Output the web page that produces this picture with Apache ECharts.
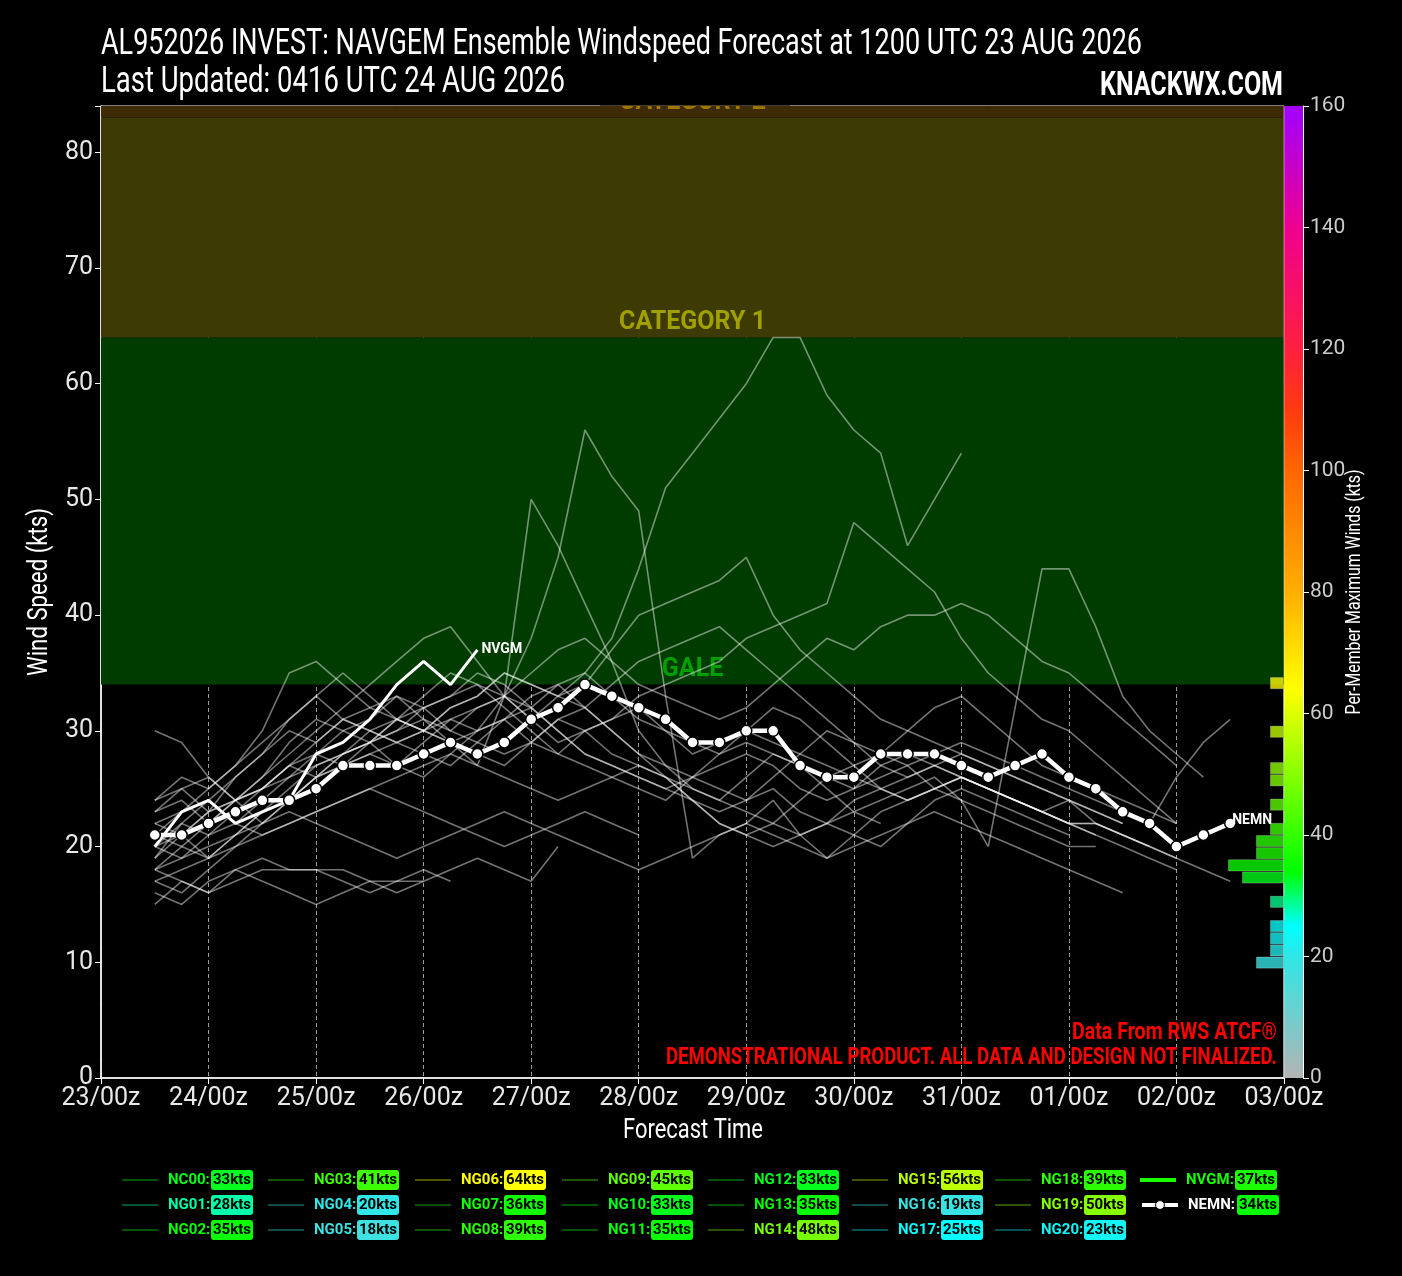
<!DOCTYPE html>
<html><head><meta charset="utf-8">
<script src="https://cdn.jsdelivr.net/npm/echarts@6/dist/echarts.min.js"></script>
<style>html,body{margin:0;padding:0;background:#000;}#c{width:1402px;height:1276px;}</style>
</head><body><div id="c"></div>
<script>
const FONT = "Roboto, 'Noto Sans', sans-serif";

// ---- time axis ----
const tickLabels = ['23/00z','24/00z','25/00z','26/00z','27/00z','28/00z','29/00z','30/00z','31/00z','01/00z','02/00z','03/00z'];
const startHour = 12, stepHour = 6;

// ---- ensemble members (kts, 6-hourly from 23/12z) ----
const NC00 = [24,26,25,27,29,31,33,31,30,29,28,27,29,31,32,30,28,27,26,25,26,27,28,27,25,24,25,27,28,27,26,25,24,23,22,22,21,20];
const NG01 = [22,23,24,22,21,22,23,24,25,26,27,28,27,26,25,24,25,26,27,26,24,23,24,25,23,22,21,20,22,24,25,24,23,22,21];
const NG02 = [19,22,24,26,28,31,33,35,33,31,30,29,30,31,33,34,32,30,28,27,26,25,24,26,28,30,29,27,26,27,28,27,26,25,24,23,22];
const NG03 = [23,24,22,24,26,29,31,30,29,30,32,33,34,33,35,37,38,36,34,33,32,31,32,34,36,38,37,39,40,40,41,40,38,36,35,33,31,29,27];
const NG04 = [16,15,17,18,17,16,15,16,17,17,17,18,19,18,17,20];
const NG05 = [15,17,16,17,18,18,18,17,16,17,18,17];
const NG06 = [24,25,23,26,28,30,29,31,32,33,31,30,32,33,31,33,35,38,44,51,54,57,60,64,64,59,56,54,46,50,54];
const NG07 = [21,23,25,27,30,35,36,34,32,31,30,29,28,27,29,31,30,28,27,26,25,24,26,28,27,25,23,22];
const NG08 = [20,21,23,24,26,28,30,32,34,36,38,39,36,33,32,34,35,33,31,30,29,28,30,32,31,29,27,25,24,25,26,25,24,23,22,22,21,20,19];
const NG09 = [23,25,26,24,25,27,29,31,30,29,30,32,33,35,34,33,34,37,40,41,42,43,45,40,37,35,33,31,30,29,28,27,26,25,24,23,22];
const NG10 = [18,20,19,21,23,24,26,27,28,29,30,31,32,33,31,29,30,31,32,30,28,29,30,29,28,27,26,25,24,25,26,25,24,23,22,21,20,19,18];
const NG11 = [22,21,19,21,23,25,27,28,29,31,33,35,34,32,30,28,27,26,25,24,26,28,29,28,27,26,25,26,27,28,29,28,27,26,25,24,23,22,26,29,31];
const NG12 = [30,29,26,24,25,27,28,30,31,33,32,30,29,28,29,31,32,30,28,26,24,22,21,20,21,22,24,25,26,27,26,25,24,23,24,22,21,20,19,18,17];
const NG13 = [17,16,18,20,22,24,26,28,30,31,32,33,35,34,32,30,28,27,26,25,24,22,21,22,24,26,27,28,27,25,24,23,22,21,20,20];
const NG14 = [21,20,22,24,25,26,27,28,29,27,26,28,30,31,29,28,30,31,33,34,35,36,38,39,40,41,48,46,44,42,38,35,33,31,30,28,26,24,22];
const NG15 = [20,22,21,23,25,27,26,28,29,30,31,29,27,33,38,45,56,52,49,33,19,21,22,24,21,19,21,23,24,25,26,25,24,23,22,21];
const NG16 = [18,17,16,18,19,18,18,18,17,16,17];
const NG17 = [17,18,19,20,21,22,23,24,25,24,23,22,21,20,21,22,23,22,21];
const NG18 = [20,19,21,22,24,26,28,27,29,31,30,32,33,35,34,33,32,34,36,37,38,39,37,35,33,31,29,28,30,32,33,31,29,27,26,25,24,23,22];
const NG19 = [19,21,23,24,22,24,26,27,28,27,29,31,30,33,50,46,41,36,30,27,25,24,23,22,21,22,23,24,25,26,24,20,32,44,44,39,33,30,28,26];
const NG20 = [18,19,20,21,22,23,22,21,20,19,20,21,22,23,22,21,20,19,18,19,20,21,22,21,20,19,20,21,22,23,22,21,20,19,18,17,16];
const NVGM = [20,23,24,22,23,24,28,29,31,34,36,34,37];
const NEMN = [21,21,22,23,24,24,25,27,27,27,28,29,28,29,31,32,34,33,32,31,29,29,30,30,27,26,26,28,28,28,27,26,27,28,26,25,23,22,20,21,22];

const memberNames = ['NC00','NG01','NG02','NG03','NG04','NG05','NG06','NG07','NG08','NG09','NG10','NG11','NG12','NG13','NG14','NG15','NG16','NG17','NG18','NG19','NG20'];
const memberData = [NC00,NG01,NG02,NG03,NG04,NG05,NG06,NG07,NG08,NG09,NG10,NG11,NG12,NG13,NG14,NG15,NG16,NG17,NG18,NG19,NG20];

// ---- colour scale of max winds ----
const cmapStops = [[0,'#b4b4b4'],[20,'#30e6e6'],[25,'#00ffff'],[34,'#00ff00'],[64,'#ffff00'],[80,'#ffae00'],[100,'#ff6600'],[110,'#ff3a10'],[120,'#ff1f3f'],[140,'#ee0090'],[160,'#a000ff']];

function hex2rgb(h){return [parseInt(h.slice(1,3),16),parseInt(h.slice(3,5),16),parseInt(h.slice(5,7),16)];}
function rgbStr(c,a){return a===undefined?`rgb(${c.map(Math.round).join(',')})`:`rgba(${c.map(Math.round).join(',')},${a})`;}
function cmapRGB(v){
  for(let i=0;i<cmapStops.length-1;i++){
    const [v0,c0]=cmapStops[i],[v1,c1]=cmapStops[i+1];
    if(v<=v1){const f=Math.max(0,(v-v0)/(v1-v0));const a=hex2rgb(c0),b=hex2rgb(c1);return a.map((x,k)=>x+(b[k]-x)*f);}
  }
  return hex2rgb(cmapStops[cmapStops.length-1][1]);
}
function cmap(v,a){return rgbStr(cmapRGB(v),a);}
function dim(v,f){return rgbStr(cmapRGB(v).map(x=>x*f));}

const toPts = arr => arr.map((v,i)=>[startHour+i*stepHour, v]);
const maxOf = arr => Math.max(...arr);

// ---- histogram of maxima (2-kt bins on the 0-160 colour axis) ----
const allMax = memberData.map(maxOf).concat([maxOf(NVGM), maxOf(NEMN)]);
const binCats = [], binCounts = [];
for(let b=0;b<80;b++){binCats.push(b*2); binCounts.push(0);}
allMax.forEach(v=>{binCounts[Math.floor(v/2)]++;});

const bandLabel = (t,c)=>({show:true,position:'insideBottom',distance:2,formatter:t,color:c,fontSize:25,fontWeight:'bold',fontFamily:FONT});
const series = [];
series.push({
  type:'line', name:'bands', data:[], z:1, silent:true,
  markArea:{silent:true, data:[
    [{xAxis:0,yAxis:34,itemStyle:{color:'#003c00'},label:bandLabel('GALE','#00a000')},{xAxis:264,yAxis:64}],
    [{xAxis:0,yAxis:64,itemStyle:{color:'#3d3a04'},label:bandLabel('CATEGORY 1','#a0a000')},{xAxis:264,yAxis:83}],
    [{xAxis:0,yAxis:83,itemStyle:{color:'#3e2a05'},label:bandLabel('CATEGORY 2','#a07800')},{xAxis:264,yAxis:84}]
  ]}
});
memberNames.forEach((n,i)=>{
  series.push({type:'line', name:n, data:toPts(memberData[i]), symbol:'none', silent:true, z:3,
    lineStyle:{color:'rgba(255,255,255,0.45)', width:1.6}});
});
series.push({type:'line', name:'NVGM', data:toPts(NVGM), symbol:'none', z:5,
  lineStyle:{color:'#ffffff', width:3},
  endLabel:{show:true, formatter:'NVGM', color:'#fff', fontWeight:'bold', fontSize:14, fontFamily:FONT, distance:4}});
series.push({type:'line', name:'NEMN', data:toPts(NEMN), symbol:'circle', symbolSize:11, z:6,
  lineStyle:{color:'#ffffff', width:4.5}, itemStyle:{color:'#fff', borderColor:'#000', borderWidth:1.5},
  endLabel:{show:true, formatter:'NEMN', color:'#fff', fontWeight:'bold', fontSize:14, fontFamily:FONT, distance:2, offset:[0,-3]}});
series.forEach(s=>{s.xAxisIndex=0; s.yAxisIndex=0;});
// histogram
series.push({type:'bar', name:'hist', xAxisIndex:1, yAxisIndex:1, barWidth:'100%', barCategoryGap:0, silent:true, z:7,
  data: binCounts.map((c,b)=>({value:c, itemStyle:{color:cmap(b*2+1,0.78), borderColor:'rgba(255,255,255,0.25)', borderWidth:1}}))});
// colour bar
series.push({type:'bar', name:'cbar', xAxisIndex:2, yAxisIndex:2, barWidth:'100%', silent:true, z:2,
  data:[160], itemStyle:{color:new echarts.graphic.LinearGradient(0,1,0,0, cmapStops.map(s=>({offset:s[0]/160,color:s[1]})))}});

// ---- legends ----
const allNames = memberNames.concat(['NVGM','NEMN']);
const rich = {};
allNames.forEach((n,i)=>{
  const v = allMax[i];
  const wide = (n==='NVGM'||n==='NEMN');
  rich['n'+i] = {color: n==='NEMN' ? '#ffffff' : cmap(v), fontFamily:FONT, fontWeight:'bold', fontSize:15, width: wide?49:43, padding:[0,0,0,5]};
  rich['b'+i] = {color:'#000', backgroundColor:cmap(v), borderRadius:3, padding:[3,2,2,2], fontFamily:FONT, fontWeight:'bold', fontSize:15, borderColor:'rgba(0,0,0,0.45)', borderWidth:1};
});
const fmt = name=>{const i=allNames.indexOf(name); return `{n${i}|${name}:}{b${i}|${allMax[i]}kts}`;};
const legendLefts = [117,263,410,557,703,847,990,1135];
const legends = [];
for(let k=0;k<7;k++){
  legends.push({orient:'vertical', left:legendLefts[k], top:1164, itemWidth:36, itemHeight:2, itemGap:3, selectedMode:false,
    data: memberNames.slice(3*k,3*k+3).map((n,j)=>({name:n, icon:'rect', itemStyle:{color:dim(allMax[3*k+j],0.33), borderWidth:0}})),
    formatter: fmt, textStyle:{rich}});
}
legends.push({orient:'vertical', left:legendLefts[7], top:1164, itemWidth:36, itemHeight:4, selectedMode:false,
  data:[{name:'NVGM', icon:'rect', itemStyle:{color:cmap(37), borderWidth:0}}], formatter: fmt, textStyle:{rich}});
legends.push({orient:'vertical', left:legendLefts[7], top:1189, itemWidth:36, itemHeight:11, selectedMode:false,
  data:[{name:'NEMN', lineStyle:{width:4, color:'#fff'}, itemStyle:{color:'#fff', borderColor:'#000', borderWidth:1}}], formatter: fmt, textStyle:{rich}});

// ---- condensed-looking texts (scaled real text) ----
const _ctx = document.createElement('canvas').getContext('2d');
function fitX(text, font, w){ _ctx.font = font; return w / _ctx.measureText(text).width; }
function gText(text, x, y, font, width, fill, align, rot){
  return {type:'text', x, y, rotation:rot||0, scaleX:fitX(text,font,width), z:60, silent:true,
    style:{text, font, fill, align:align||'left', verticalAlign:'middle'}};
}
const T1 = 'AL952026 INVEST: NAVGEM Ensemble Windspeed Forecast at 1200 UTC 23 AUG 2026';
const T2 = 'Last Updated: 0416 UTC 24 AUG 2026';
const graphics = [
  gText(T1, 101, 45, '36px Roboto', 1041, '#fff', 'left'),
  gText(T2, 101, 83, '36px Roboto', 464, '#fff', 'left'),
  gText('KNACKWX.COM', 1283, 87, 'bold 33px Roboto', 183, '#fff', 'right'),
  gText('Data From RWS ATCF®', 1277, 1033, 'bold 24px Roboto', 205, '#ff0000', 'right'),
  gText('DEMONSTRATIONAL PRODUCT. ALL DATA AND DESIGN NOT FINALIZED.', 1277, 1058, 'bold 24px Roboto', 611, '#ff0000', 'right'),
  gText('Forecast Time', 693, 1131, '28px Roboto', 140, '#fff', 'center'),
  gText('Wind Speed (kts)', 40, 592, '28px Roboto', 168, '#fff', 'center', Math.PI/2),
  gText('Per-Member Maximum Winds (kts)', 1355, 592, '20px Roboto', 245, '#fff', 'center', Math.PI/2),
  {type:'rect', z:100, silent:true, shape:{x:600, y:76, width:190, height:29.5}, style:{fill:'#000'}}
];

const option = {
  backgroundColor:'#000',
  animation:false,
  textStyle:{fontFamily:FONT},
  legend: legends,
  grid:[
    {left:101, top:106, width:1183, height:972, show:true, borderColor:'#ffffff', borderWidth:1, backgroundColor:'transparent'},
    {left:1144, top:106, width:140, height:972},
    {left:1284, top:106, width:19, height:972}
  ],
  xAxis:[
    {gridIndex:0, type:'value', min:0, max:264, interval:24,
     axisLine:{show:true, lineStyle:{color:'#fff', width:1.5}}, axisTick:{show:true, length:6, lineStyle:{color:'#fff'}},
     axisLabel:{color:'#e8e8e8', fontSize:25, fontFamily:FONT, margin:8, formatter:v=>tickLabels[Math.round(v/24)]||''},
     splitLine:{show:true, lineStyle:{color:'#9a9a9a', type:[4,3], width:1}}},
    {gridIndex:1, type:'value', min:0, max:10, inverse:true, show:false},
    {gridIndex:2, type:'category', data:['cb'], show:false}
  ],
  yAxis:[
    {gridIndex:0, type:'value', min:0, max:84, interval:10,
     axisLine:{show:true, lineStyle:{color:'#fff', width:1.5}}, axisTick:{show:true, length:6, lineStyle:{color:'#fff'}},
     axisLabel:{color:'#e8e8e8', fontSize:25, fontFamily:FONT, margin:8, formatter:v=>(v%10===0?String(v):'')},
     splitLine:{show:false}},
    {gridIndex:1, type:'category', data:binCats, show:false},
    {gridIndex:2, type:'value', min:0, max:160, interval:20, position:'right',
     axisLine:{show:true, lineStyle:{color:'#fff', width:1}}, axisTick:{show:true, length:6, lineStyle:{color:'#fff'}},
     axisLabel:{color:'#cccccc', fontSize:21, fontFamily:FONT, margin:7}, splitLine:{show:false}}
  ],
  graphic: graphics,
  series
};
const chart = echarts.init(document.getElementById('c'), null, {renderer:'canvas'});
chart.setOption(option);
</script></body></html>
